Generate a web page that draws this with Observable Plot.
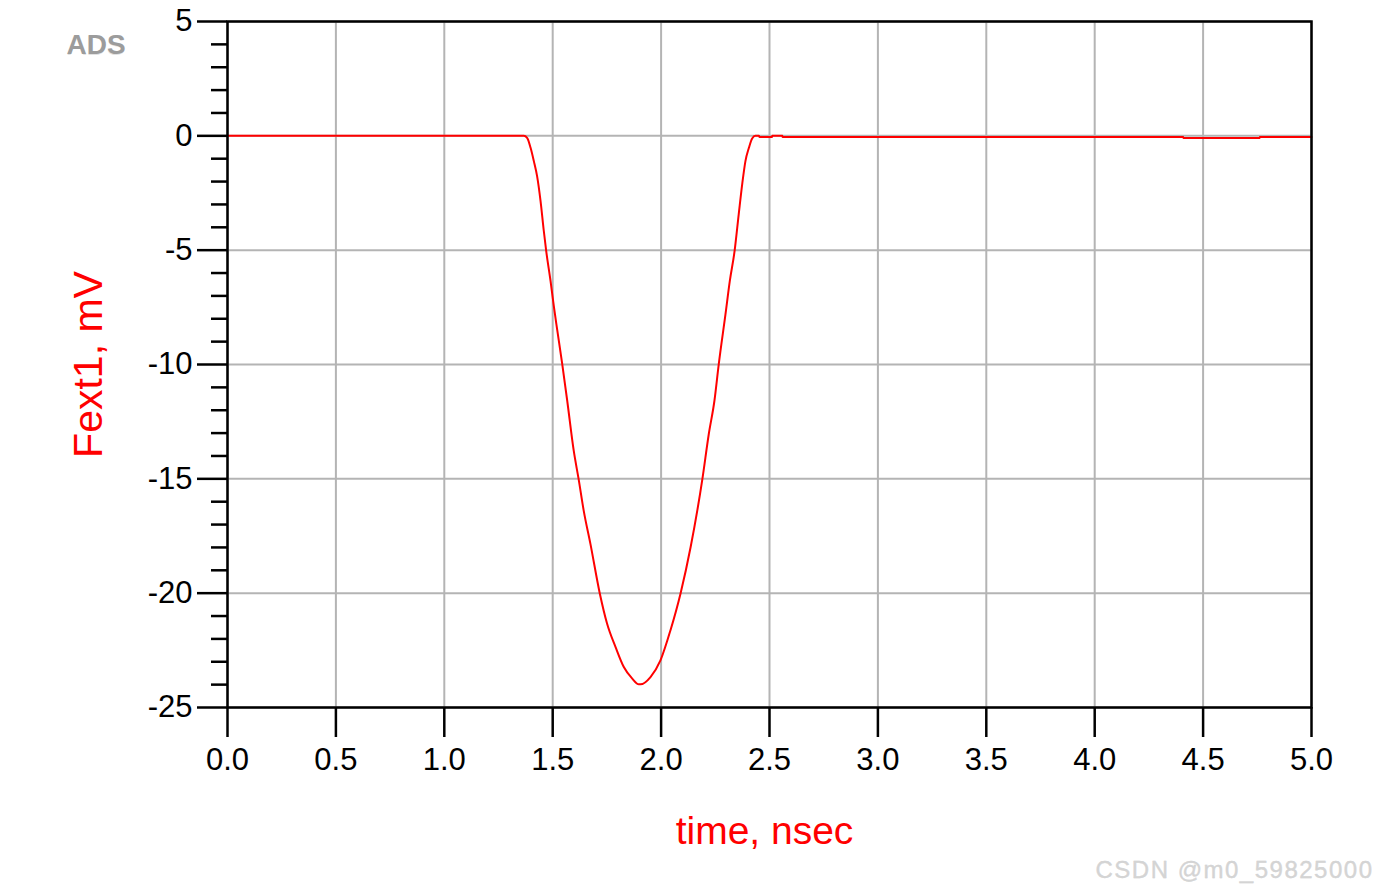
<!DOCTYPE html>
<html>
<head>
<meta charset="utf-8">
<script src="https://cdn.jsdelivr.net/npm/d3@7"></script>
<script src="https://cdn.jsdelivr.net/npm/@observablehq/plot@0.6"></script>
<style>
  html, body { margin: 0; padding: 0; background: #fff; }
  #chart { width: 1378px; height: 893px; }
</style>
</head>
<body>
<div id="chart"></div>
<script>
// time in nsec
const timeNs = [
  0.000, 1.367, 1.382, 1.398, 1.413, 1.428, 1.444, 1.459, 1.470, 1.490,
  1.505, 1.521, 1.544, 1.567, 1.597, 1.620, 1.643, 1.674, 1.717, 1.751,
  1.790, 1.828, 1.867, 1.897, 1.905, 1.951, 1.997, 2.043, 2.090, 2.136,
  2.190, 2.220, 2.246, 2.266, 2.297, 2.317, 2.339, 2.358, 2.374, 2.389,
  2.405, 2.420, 2.435, 2.451, 2.454, 2.512, 2.513, 2.559, 2.560, 4.408,
  4.409, 4.761, 4.762, 5.000
];
// Fext1 in mV
const fextMv = [
  0.000, 0.000, -0.087, -0.524, -1.105, -1.760, -2.852, -4.162, -5.035, -6.345,
  -7.440, -8.500, -9.983, -11.585, -13.769, -15.035, -16.389, -17.843, -20.000, -21.336,
  -22.358, -23.231, -23.738, -23.987, -23.987, -23.668, -22.939, -21.629, -20.000, -17.991,
  -15.035, -13.039, -11.585, -9.983, -7.799, -6.345, -5.035, -3.432, -2.122, -1.105,
  -0.524, -0.114, 0.000, 0.000, -0.050, -0.050, 0.000, 0.000, -0.050, -0.050,
  -0.090, -0.090, -0.050, -0.050
];
const xTicks = [0, 0.5, 1, 1.5, 2, 2.5, 3, 3.5, 4, 4.5, 5];
const yTicks = [5, 0, -5, -10, -15, -20, -25];
const yMinorTicks = [4, 3, 2, 1, -1, -2, -3, -4, -6, -7, -8, -9, -11, -12, -13, -14,
  -16, -17, -18, -19, -21, -22, -23, -24];
const xTitle = ["time, nsec"];
const yTitle = ["Fext1, mV"];
const logoText = ["ADS"];
const watermark = ["CSDN @m0_59825000"];

const data = timeNs.map((t, i) => ({t, v: fextMv[i]}));

const chart = Plot.plot({
  width: 1378,
  height: 893,
  marginLeft: 227,
  marginRight: 67,
  marginTop: 21,
  marginBottom: 186,
  style: {fontFamily: "'Liberation Sans', Arial, sans-serif", color: "black", background: "white", overflow: "visible"},
  x: {domain: [0, 5], axis: null},
  y: {domain: [-25, 5], axis: null},
  marks: [
    Plot.gridX(xTicks, {stroke: "#b4b4b4", strokeOpacity: 1, strokeWidth: 2}),
    Plot.gridY(yTicks, {stroke: "#b4b4b4", strokeOpacity: 1, strokeWidth: 2}),
    Plot.line(data, {x: "t", y: "v", stroke: "#ff0000", strokeWidth: 2, curve: "monotone-x"}),
    Plot.frame({stroke: "black", strokeWidth: 2.5}),
    Plot.axisX(xTicks, {anchor: "bottom", tickSize: 30, tickPadding: 10, strokeWidth: 2.5,
      tickFormat: d3.format(".1f"), fontSize: 31, label: null}),
    Plot.axisY(yTicks, {anchor: "left", tickSize: 30, tickPadding: 5, strokeWidth: 2.5,
      tickFormat: d => String(d), fontSize: 31, label: null}),
    Plot.axisY(yMinorTicks, {anchor: "left", tickSize: 16, strokeWidth: 2.5,
      tickFormat: () => "", label: null}),
    Plot.text(xTitle, {text: d => d, frameAnchor: "bottom", dx: -5, dy: 124.5, fontSize: 39,
      fill: "#ff0000", lineAnchor: "middle"}),
    Plot.text(yTitle, {text: d => d, frameAnchor: "left", dx: -139, rotate: -90, fontSize: 41,
      fill: "#ff0000", lineAnchor: "middle", textAnchor: "middle"}),
    Plot.text(logoText, {text: d => d, frameAnchor: "top-left", dx: -160, dy: 24.5, fontSize: 28,
      fill: "#e2e2e2", textAnchor: "start", lineAnchor: "middle"}),
    Plot.text(logoText, {text: d => d, frameAnchor: "top-left", dx: -161, dy: 23.5, fontSize: 28,
      fill: "#9c9c9c", textAnchor: "start", lineAnchor: "middle", fontWeight: "bold"}),
    Plot.text(watermark, {text: d => d, frameAnchor: "bottom-right", dx: 62, dy: 163, fontSize: 24,
      fill: "#d4d4d4", stroke: "#c4c4c4", strokeWidth: 0.3, textAnchor: "end", lineAnchor: "middle"})
  ]
});
d3.select(chart).selectAll("text").filter(function() { return this.textContent === "CSDN @m0_59825000"; })
  .attr("letter-spacing", "1.5px");
document.getElementById("chart").appendChild(chart);
</script>
</body>
</html>
